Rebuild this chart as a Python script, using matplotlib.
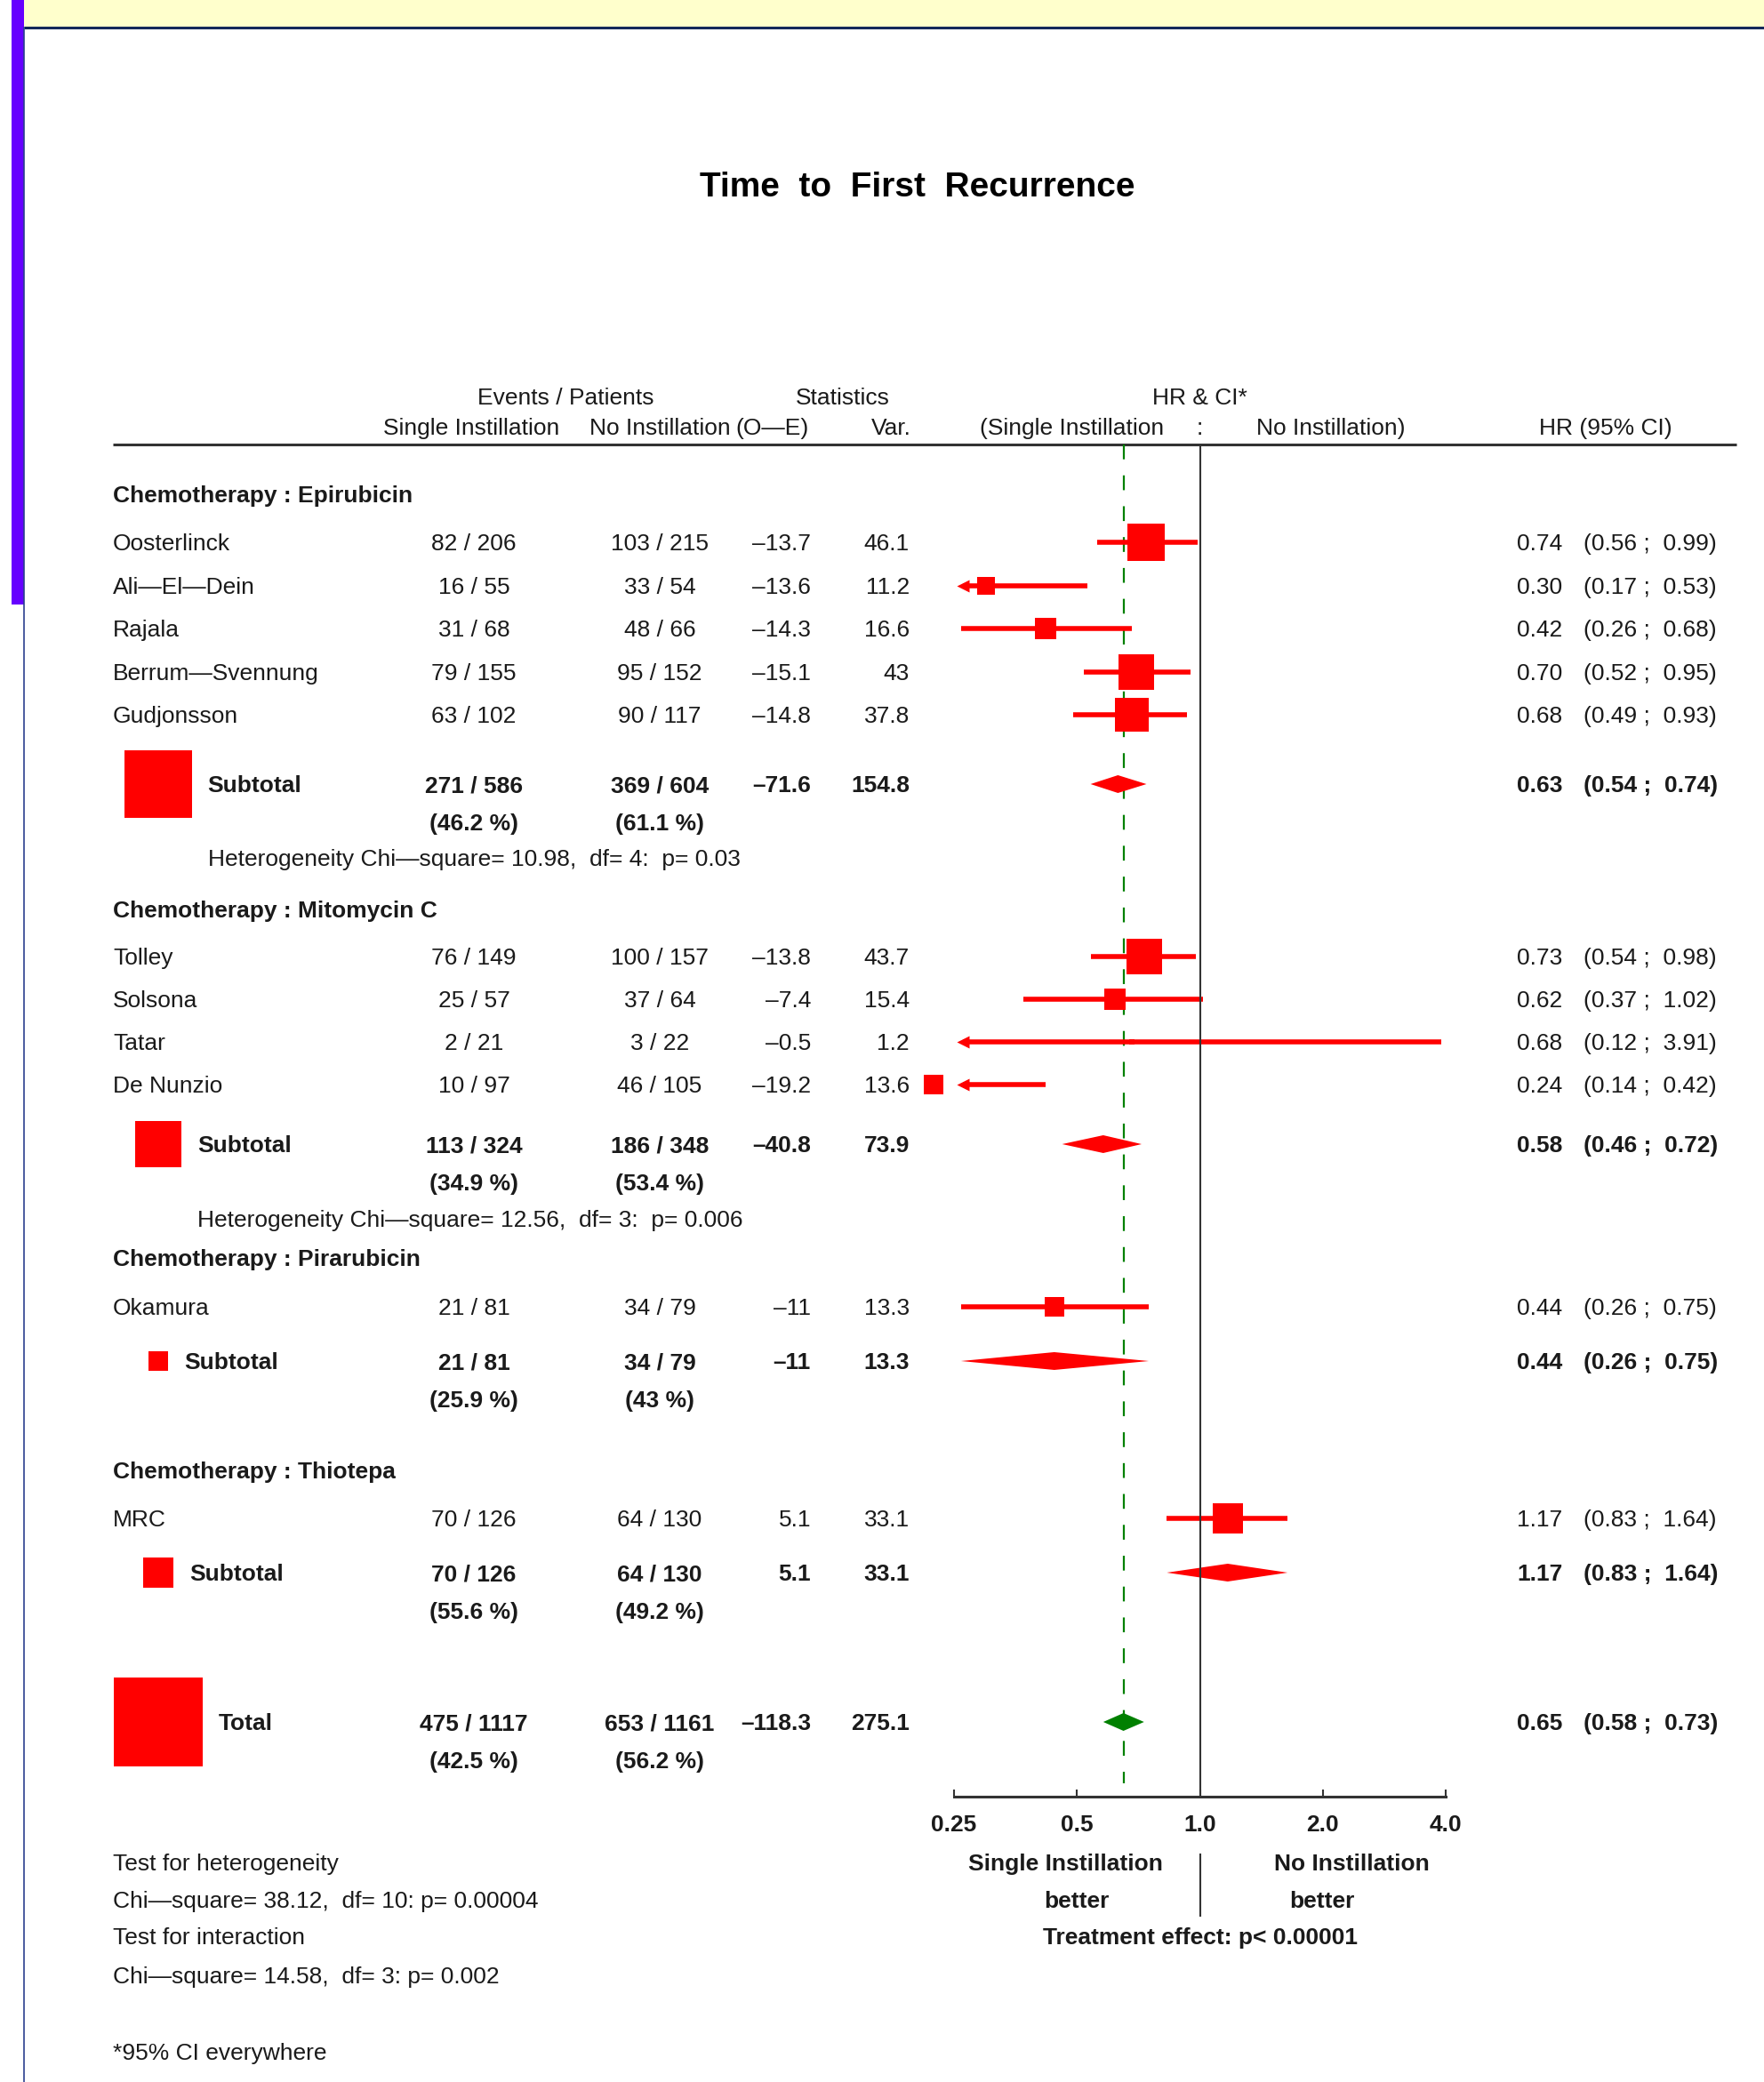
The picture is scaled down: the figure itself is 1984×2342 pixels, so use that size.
import numpy as np
import matplotlib
matplotlib.use("Agg")
import matplotlib.pyplot as plt
from matplotlib.patches import Rectangle
from matplotlib.ticker import NullLocator

plt.rcParams['font.family'] = ['Liberation Sans', 'DejaVu Sans']
plt.rcParams['lines.scale_dashes'] = False

# ---- trial data ----
groups = ["Epirubicin", "Mitomycin C", "Pirarubicin", "Thiotepa"]
study_group = [0, 0, 0, 0, 0, 1, 1, 1, 1, 2, 3]
studies = ["Oosterlinck", "Ali—El—Dein", "Rajala", "Berrum—Svennung", "Gudjonsson",
           "Tolley", "Solsona", "Tatar", "De Nunzio", "Okamura", "MRC"]
si_events = [82, 16, 31, 79, 63, 76, 25, 2, 10, 21, 70]
si_patients = [206, 55, 68, 155, 102, 149, 57, 21, 97, 81, 126]
ni_events = [103, 33, 48, 95, 90, 100, 37, 3, 46, 34, 64]
ni_patients = [215, 54, 66, 152, 117, 157, 64, 22, 105, 79, 130]
o_minus_e = [-13.7, -13.6, -14.3, -15.1, -14.8, -13.8, -7.4, -0.5, -19.2, -11, 5.1]
variance = [46.1, 11.2, 16.6, 43, 37.8, 43.7, 15.4, 1.2, 13.6, 13.3, 33.1]
hr = [0.74, 0.30, 0.42, 0.70, 0.68, 0.73, 0.62, 0.68, 0.24, 0.44, 1.17]
ci_low = [0.56, 0.17, 0.26, 0.52, 0.49, 0.54, 0.37, 0.12, 0.14, 0.26, 0.83]
ci_high = [0.99, 0.53, 0.68, 0.95, 0.93, 0.98, 1.02, 3.91, 0.42, 0.75, 1.64]

sub_si_events = [271, 113, 21, 70]
sub_si_patients = [586, 324, 81, 126]
sub_si_pct = [46.2, 34.9, 25.9, 55.6]
sub_ni_events = [369, 186, 34, 64]
sub_ni_patients = [604, 348, 79, 130]
sub_ni_pct = [61.1, 53.4, 43, 49.2]
sub_o_minus_e = [-71.6, -40.8, -11, 5.1]
sub_variance = [154.8, 73.9, 13.3, 33.1]
sub_hr = [0.63, 0.58, 0.44, 1.17]
sub_ci_low = [0.54, 0.46, 0.26, 0.83]
sub_ci_high = [0.74, 0.72, 0.75, 1.64]
heterogeneity = ["Heterogeneity Chi—square= 10.98,  df= 4:  p= 0.03",
                 "Heterogeneity Chi—square= 12.56,  df= 3:  p= 0.006", None, None]

total_si = (475, 1117, 42.5)
total_ni = (653, 1161, 56.2)
total_o_minus_e = -118.3
total_variance = 275.1
total_hr, total_low, total_high = 0.65, 0.58, 0.73

axis_ticks = [0.25, 0.5, 1.0, 2.0, 4.0]
axis_labels = ["0.25", "0.5", "1.0", "2.0", "4.0"]

footer_left = ["Test for heterogeneity",
               "Chi—square= 38.12,  df= 10: p= 0.00004",
               "Test for interaction",
               "Chi—square= 14.58,  df= 3: p= 0.002"]

# ---- layout (pixel rows, top = 0) ----
W, H = 1984, 2342
X0, X1 = 1073, 1626          # pixel span of HR 0.25 .. 4
Y0, Y1 = 500, 2021           # header rule .. HR axis
XMIN, XMAX = 0.25, 4.0
PX_OCT = (X1 - X0) / np.log2(XMAX / XMIN)
group_y = [556, 1023, 1415, 1654]
study_y = [610, 658.5, 707, 755.5, 804, 1076, 1124, 1172, 1220, 1470, 1708]
sub_y = [882, 1287, 1531, 1769]
het_y = [965, 1371, None, None]
total_y = 1937
PCT_GAP = 43
COL_NAME, COL_SI, COL_NI, COL_OE, COL_VAR, COL_HR, COL_CI = 127, 533, 742, 912, 1023, 1706, 1781
SQ_X = 178
SQ = 6.05                     # square side (px) per sqrt(variance)
FS = 19
RED = '#ff0000'
GREEN = '#008000'
INK = '#1a1a1a'
CI_LW = 4.0

fig = plt.figure(figsize=(W / 100, H / 100), dpi=100)
fig.patch.set_facecolor('white')

canvas = fig.add_axes([0, 0, 1, 1])
canvas.set_xlim(0, W)
canvas.set_ylim(H, 0)
canvas.axis('off')

ax = fig.add_axes([X0 / W, (H - Y1) / H, (X1 - X0) / W, (Y1 - Y0) / H])
ax.set_xscale('log', base=2)
ax.set_xlim(XMIN, XMAX)
ax.set_ylim(Y1, Y0)
ax.patch.set_alpha(0)


def put(x, y, s, ha='left', bold=False, size=FS, color=INK):
    # y is the vertical middle of the capitals
    canvas.text(x, y + 0.358 * size * 100 / 72, s, ha=ha, va='baseline', fontsize=size,
                fontweight='bold' if bold else 'normal', color=color)


def num(v):
    return f"{v:g}".replace('-', '–')


def frac(e, n):
    return f"{e} / {n}"


def ci_txt(lo, hi):
    return f"({lo:.2f} ;  {hi:.2f})"


def shift(x, px):
    return x * 2 ** (px / PX_OCT)


def msize(side_px):
    return (side_px * 0.72) ** 2


def draw_estimate(y, h, lo, hi, var):
    side = SQ * np.sqrt(var)
    if lo < XMIN:
        tip = shift(XMIN, 4)
        ax.plot([shift(tip, 6), hi], [y, y], color=RED, lw=CI_LW, solid_capstyle='butt', zorder=3)
        ax.plot([shift(tip, 6)], [y], marker='<', ms=9.5, color=RED, mec='none', zorder=3, clip_on=False)
    else:
        ax.plot([lo, hi], [y, y], color=RED, lw=CI_LW, solid_capstyle='butt', zorder=3)
    x = h if h >= XMIN else shift(XMIN, -(side / 2 + 12))
    ax.scatter([x], [y], marker='s', s=msize(side), color=RED, linewidths=0, zorder=4, clip_on=False)


def draw_diamond(y, h, lo, hi, color):
    ax.fill([lo, h, hi, h], [y, y - 10, y, y + 10], color=color, lw=0, zorder=3)


# page frame
canvas.add_patch(Rectangle((27, 0), W - 27, 30, color='#ffffcc', lw=0))
canvas.plot([27, W], [31, 31], color='#14285a', lw=2.2, solid_capstyle='butt')
canvas.plot([27, 27], [31, H], color='#2b3f8f', lw=1.2)
canvas.add_patch(Rectangle((13, 0), 14, 680, color='#6600ff', lw=0))

# title and column headers
put(1032, 207, "Time  to  First  Recurrence", ha='center', bold=True, size=28, color='black')
put(636, 446, "Events / Patients", ha='center')
put(948, 446, "Statistics", ha='center')
put(1349, 446, "HR & CI*", ha='center')
put(530, 480, "Single Instillation", ha='center')
put(COL_NI, 480, "No Instillation", ha='center')
put(910, 480, "(O—E)", ha='right')
put(1025, 480, "Var.", ha='right')
put(1309, 480, "(Single Instillation", ha='right')
put(1349, 480, ":", ha='center')
put(1413, 480, "No Instillation)")
put(1806, 480, "HR (95% CI)", ha='center')
canvas.plot([127, 1953], [Y0, Y0], color='#333333', lw=2.2, solid_capstyle='butt')

# reference lines
ax.axvline(1.0, color='#333333', lw=1.5, zorder=5)
ax.plot([total_hr, total_hr], [Y0, 2006], color=GREEN, lw=1.6, dashes=(12, 13), zorder=2)

for g, name in enumerate(groups):
    put(COL_NAME, group_y[g], f"Chemotherapy : {name}", bold=True)

for i, name in enumerate(studies):
    y = study_y[i]
    put(COL_NAME, y, name)
    put(COL_SI, y, frac(si_events[i], si_patients[i]), ha='center')
    put(COL_NI, y, frac(ni_events[i], ni_patients[i]), ha='center')
    put(COL_OE, y, num(o_minus_e[i]), ha='right')
    put(COL_VAR, y, num(variance[i]), ha='right')
    put(COL_HR, y, f"{hr[i]:.2f}")
    put(COL_CI, y, ci_txt(ci_low[i], ci_high[i]))
    draw_estimate(y, hr[i], ci_low[i], ci_high[i], variance[i])


def summary_row(y, label, si, ni, oe, var, h, lo, hi, color):
    side = SQ * np.sqrt(var)
    canvas.scatter([SQ_X], [y], marker='s', s=msize(side), color=RED, linewidths=0)
    lx = SQ_X + side / 2 + 18
    put(lx, y, label, bold=True)
    put(COL_SI, y, frac(si[0], si[1]), ha='center', bold=True)
    put(COL_NI, y, frac(ni[0], ni[1]), ha='center', bold=True)
    put(COL_OE, y, num(oe), ha='right', bold=True)
    put(COL_VAR, y, num(var), ha='right', bold=True)
    put(COL_HR, y, f"{h:.2f}", bold=True)
    put(COL_CI, y, ci_txt(lo, hi), bold=True)
    put(COL_SI, y + PCT_GAP, f"({si[2]:g} %)", ha='center', bold=True)
    put(COL_NI, y + PCT_GAP, f"({ni[2]:g} %)", ha='center', bold=True)
    draw_diamond(y, h, lo, hi, color)
    return lx


for g in range(len(groups)):
    lx = summary_row(sub_y[g], "Subtotal",
                     (sub_si_events[g], sub_si_patients[g], sub_si_pct[g]),
                     (sub_ni_events[g], sub_ni_patients[g], sub_ni_pct[g]),
                     sub_o_minus_e[g], sub_variance[g],
                     sub_hr[g], sub_ci_low[g], sub_ci_high[g], RED)
    if heterogeneity[g]:
        put(lx, het_y[g], heterogeneity[g])

summary_row(total_y, "Total", total_si, total_ni, total_o_minus_e, total_variance,
            total_hr, total_low, total_high, GREEN)

# HR axis
ax.set_xticks(axis_ticks)
ax.set_xticklabels(axis_labels, fontweight='bold')
ax.xaxis.set_minor_locator(NullLocator())
ax.tick_params(axis='x', direction='in', length=5.5, width=1.5, pad=14.5,
               labelsize=FS, colors='#333333', labelcolor=INK)
ax.yaxis.set_visible(False)
for s in ['top', 'left', 'right']:
    ax.spines[s].set_visible(False)
ax.spines['bottom'].set_linewidth(2.2)
ax.spines['bottom'].set_color('#333333')

# favour labels under the axis
put(1198, 2095, "Single Instillation", ha='center', bold=True)
put(1520, 2095, "No Instillation", ha='center', bold=True)
put(1211, 2137, "better", ha='center', bold=True)
put(1487, 2137, "better", ha='center', bold=True)
put(1350, 2178, "Treatment effect: p< 0.00001", ha='center', bold=True)
ax.plot([1.0, 1.0], [2086, 2155], color='#333333', lw=1.5, clip_on=False)

for k, line in enumerate(footer_left):
    put(COL_NAME, [2095, 2137, 2178, 2222][k], line)
put(COL_NAME, 2308, "*95% CI everywhere")

fig.savefig('out.png', dpi=100)
